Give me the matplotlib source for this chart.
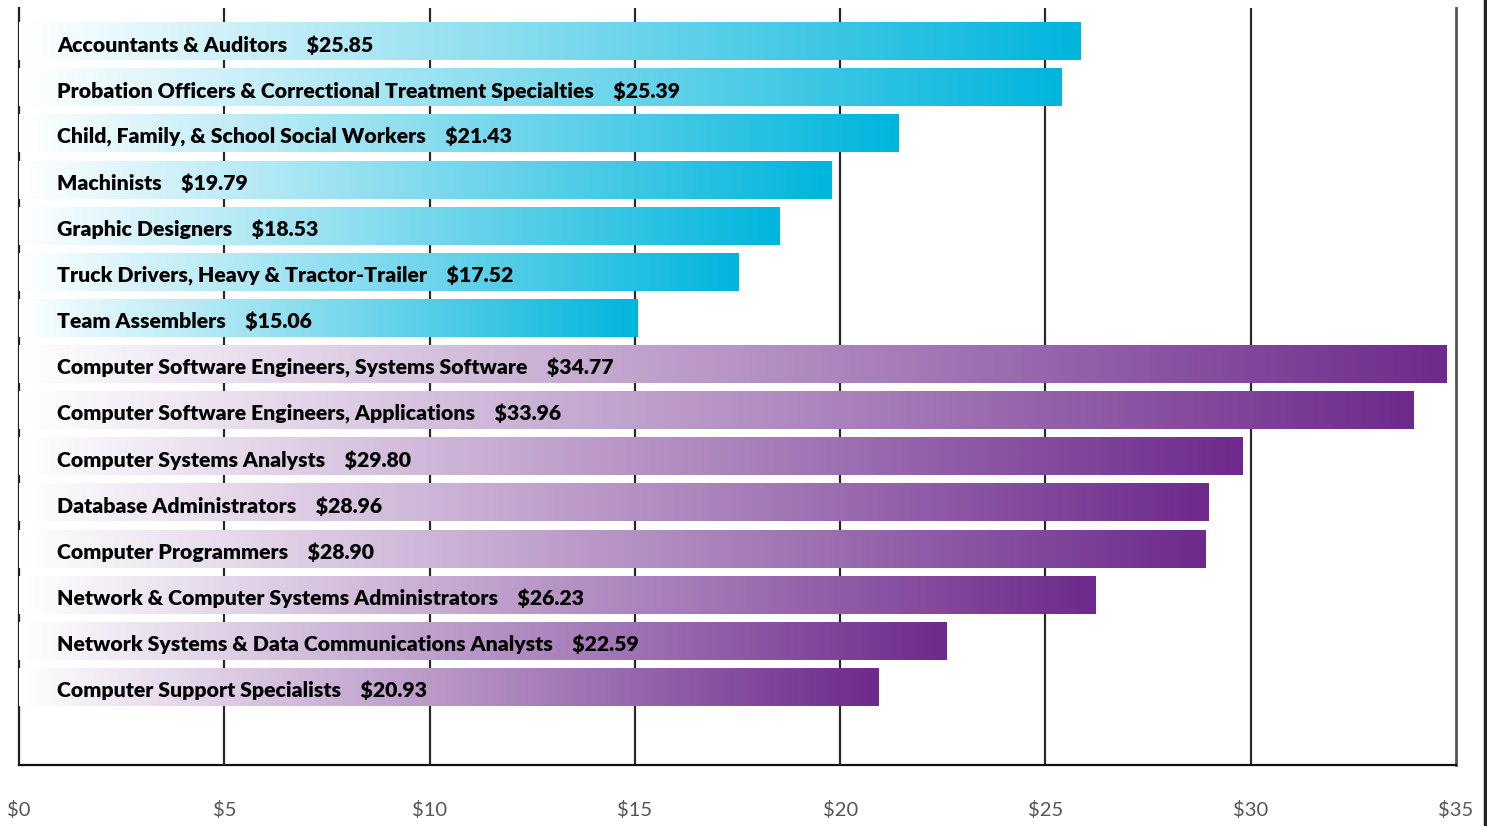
import numpy as np
import matplotlib.pyplot as plt
from matplotlib.colors import LinearSegmentedColormap
from matplotlib.lines import Line2D

# hourly wages by occupation
occupations = [
    "Accountants & Auditors",
    "Probation Officers & Correctional Treatment Specialties",
    "Child, Family, & School Social Workers",
    "Machinists",
    "Graphic Designers",
    "Truck Drivers, Heavy & Tractor-Trailer",
    "Team Assemblers",
    "Computer Software Engineers, Systems Software",
    "Computer Software Engineers, Applications",
    "Computer Systems Analysts",
    "Database Administrators",
    "Computer Programmers",
    "Network & Computer Systems Administrators",
    "Network Systems & Data Communications Analysts",
    "Computer Support Specialists",
]
wages = [25.85, 25.39, 21.43, 19.79, 18.53, 17.52, 15.06,
         34.77, 33.96, 29.80, 28.96, 28.90, 26.23, 22.59, 20.93]
group = ["other"] * 7 + ["computer"] * 8
x_ticks = [0, 5, 10, 15, 20, 25, 30, 35]

cmaps = {
    "other": LinearSegmentedColormap.from_list("blue", ["#ffffff", "#00b5dc"]),
    "computer": LinearSegmentedColormap.from_list("purple", ["#ffffff", "#6e2a8c"]),
}

fig = plt.figure(figsize=(14.87, 8.26), dpi=100)
ax = fig.add_axes([19 / 1487, 1 - 765 / 826, (1456 - 19) / 1487, (765 - 8) / 826])

n = len(wages)
h = 0.82
grad = np.linspace(0, 1, 256).reshape(1, -1)
for i, (name, w, g) in enumerate(zip(occupations, wages, group)):
    ax.imshow(grad, cmap=cmaps[g], aspect="auto", interpolation="bilinear",
              extent=[0, w, i + h / 2, i - h / 2], zorder=2)
    ax.text(0.93, i + 0.08, f"{name}    ${w:.2f}", va="center", ha="left",
            fontsize=15.3, fontweight="heavy", family="Lato",
            color="#000000", zorder=3)

ax.set_xlim(0, 35)
ax.set_ylim(n - 1 + 1.69, -0.72)

# vertical gridlines behind bars
for t in x_ticks[1:-1]:
    ax.axvline(t, color="#2a2a2a", lw=1.6, zorder=1)

ax.spines["top"].set_visible(False)
ax.spines["left"].set_color("#222222")
ax.spines["left"].set_linewidth(1.6)
ax.spines["left"].set_zorder(1)
ax.spines["right"].set_color("#555555")
ax.spines["right"].set_linewidth(2)
ax.spines["bottom"].set_color("#111111")
ax.spines["bottom"].set_linewidth(1.6)

ax.set_yticks([])
ax.set_xticks(x_ticks)
ax.set_xticklabels([f"${t}" for t in x_ticks], family="Lato", fontweight="normal",
                   fontsize=14.5, color="#555555")
ax.tick_params(axis="x", length=0, pad=26)

# thin border on the right edge of the figure
fig.add_artist(Line2D([1485 / 1487, 1485 / 1487], [0, 1], transform=fig.transFigure,
                      color="#222222", lw=2.5))

fig.savefig("out.png", dpi=100)
